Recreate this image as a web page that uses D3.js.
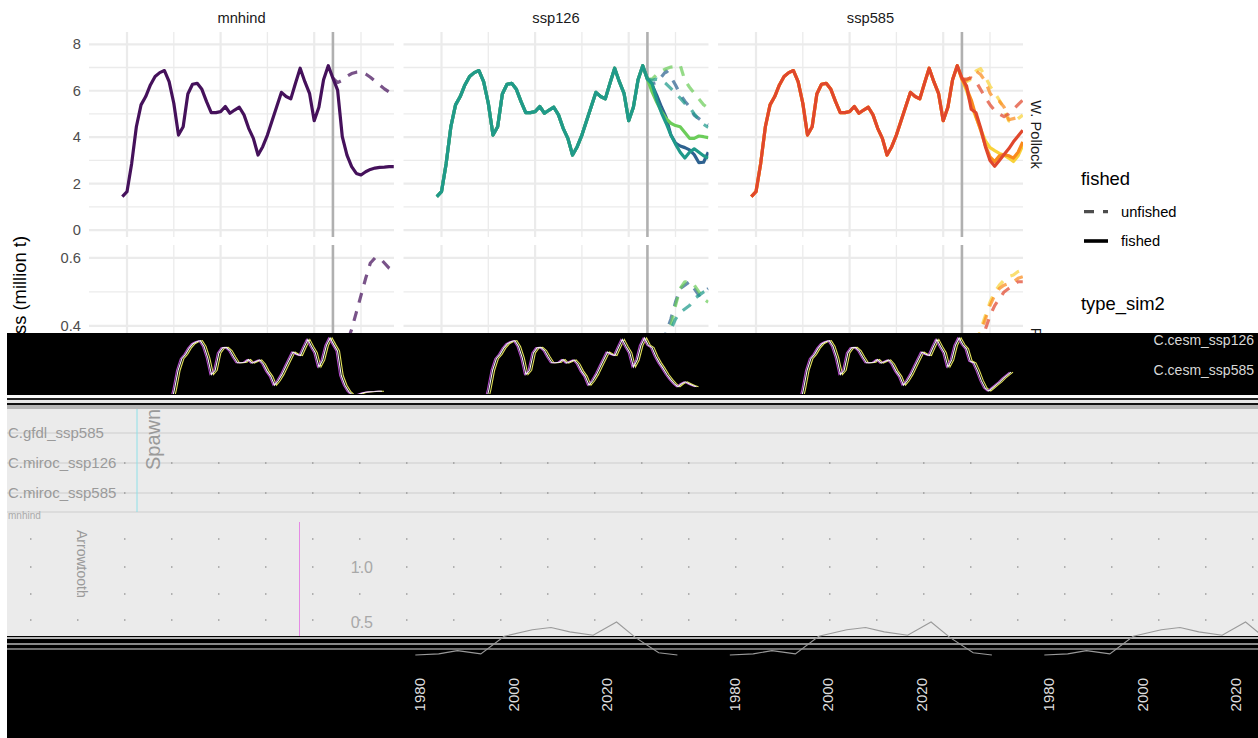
<!doctype html>
<html>
<head>
<meta charset="utf-8">
<script src="https://cdn.jsdelivr.net/npm/d3@7/dist/d3.min.js"></script>
<style>
body { margin: 0; background: #fff; }
text { font-family: "Liberation Sans", Arial, sans-serif; }
</style>
</head>
<body>
<script>
// ---- data ----
var scenarios = ["mnhind", "ssp126", "ssp585"];
var species = ["W. Pollock", "P. cod"];
var hindYears = d3.range(1979, 2024);
var projYears = d3.range(2024, 2038);
var xBreaks = [1980, 2000, 2020];
var xMinor = [1990, 2010, 2030];
var projStart = 2024;
var yTicksPollock = [0, 2, 4, 6, 8];
var yMinorPollock = [1, 3, 5, 7];
var yTicksCod = [0.2, 0.4, 0.6];
var yMinorCod = [0.3, 0.5];

var pollockHind = [1.44, 1.65, 2.87, 4.45, 5.39, 5.75, 6.25, 6.61, 6.78, 6.87,
  6.39, 5.46, 4.09, 4.45, 5.86, 6.28, 6.32, 6.06, 5.53, 5.06,
  5.06, 5.10, 5.32, 5.03, 5.17, 5.29, 4.96, 4.38, 3.95, 3.23,
  3.59, 4.09, 4.71, 5.32, 5.93, 5.75, 5.65, 6.32, 6.97, 6.39,
  5.89, 4.71, 5.29, 6.47, 7.08];

var panelSims = {
  mnhind: ["mnhind"],
  ssp126: ["C.cesm_ssp126", "C.gfdl_ssp126", "C.miroc_ssp126"],
  ssp585: ["C.cesm_ssp585", "C.gfdl_ssp585", "C.miroc_ssp585"]
};
var simColor = {
  "mnhind": "#45115b",
  "C.cesm_ssp126": "#2e6290", "C.gfdl_ssp126": "#6ccd5a", "C.miroc_ssp126": "#1f9a8a",
  "C.cesm_ssp585": "#f8d23a", "C.gfdl_ssp585": "#f98b1d", "C.miroc_ssp585": "#e0472d"
};

var pollockFished = {
  "mnhind":        [6.54, 6.03, 4.02, 3.23, 2.73, 2.44, 2.37, 2.51, 2.61, 2.67, 2.70, 2.71, 2.73, 2.73],
  "C.cesm_ssp126": [6.50, 6.25, 5.80, 5.30, 4.85, 4.10, 3.75, 3.62, 3.55, 3.45, 3.25, 2.90, 2.92, 3.35],
  "C.gfdl_ssp126": [6.50, 5.95, 5.50, 5.10, 4.80, 4.60, 4.50, 4.45, 4.20, 3.95, 3.95, 4.05, 4.02, 3.98],
  "C.miroc_ssp126":[6.50, 6.30, 5.60, 5.05, 4.60, 4.10, 3.70, 3.35, 3.10, 3.35, 3.50, 3.35, 3.20, 3.10],
  "C.cesm_ssp585": [6.50, 6.00, 5.40, 4.85, 4.35, 3.85, 3.55, 3.42, 3.30, 3.23, 3.10, 2.95, 3.20, 3.65],
  "C.gfdl_ssp585": [6.50, 6.10, 5.60, 4.90, 4.30, 3.65, 3.15, 2.95, 3.20, 3.25, 3.20, 3.10, 3.35, 3.80],
  "C.miroc_ssp585":[6.55, 6.20, 5.20, 5.05, 4.40, 3.60, 3.00, 2.75, 3.00, 3.25, 3.50, 3.80, 4.05, 4.30]
};
var pollockUnfished = {
  "mnhind":        [6.54, 6.35, 6.45, 6.62, 6.74, 6.80, 6.82, 6.72, 6.58, 6.42, 6.25, 6.08, 5.95, 5.88],
  "C.cesm_ssp126": [6.50, 6.30, 6.35, 6.60, 6.85, 6.60, 6.25, 5.85, 5.55, 5.30, 4.95, 4.80, 4.65, 4.53],
  "C.gfdl_ssp126": [6.50, 6.50, 6.70, 6.85, 6.95, 7.02, 7.05, 7.10, 6.45, 6.15, 5.90, 5.65, 5.40, 5.25],
  "C.miroc_ssp126":[6.50, 6.45, 6.50, 6.45, 6.30, 6.10, 5.90, 5.68, 5.45, 5.30, 5.00, 4.75, 4.55, 4.42],
  "C.cesm_ssp585": [6.50, 6.40, 6.50, 6.85, 6.95, 6.60, 6.20, 5.90, 5.60, 5.20, 4.70, 4.65, 4.80, 4.95],
  "C.gfdl_ssp585": [6.50, 6.45, 6.60, 6.85, 6.70, 6.40, 5.90, 5.60, 5.55, 5.30, 4.75, 4.80, 4.85, 4.90],
  "C.miroc_ssp585":[6.50, 6.50, 6.55, 6.40, 6.05, 5.70, 5.40, 5.15, 5.00, 4.88, 5.00, 5.20, 5.40, 5.60]
};
var codUnfished = {
  "mnhind":        [0.26, 0.28, 0.31, 0.35, 0.39, 0.44, 0.49, 0.54, 0.585, 0.60, 0.60, 0.585, 0.57, 0.56],
  "C.cesm_ssp126": [0.25, 0.28, 0.31, 0.34, 0.38, 0.42, 0.47, 0.51, 0.52, 0.53, 0.51, 0.49, 0.50, 0.51],
  "C.gfdl_ssp126": [0.25, 0.27, 0.30, 0.33, 0.36, 0.40, 0.46, 0.51, 0.53, 0.53, 0.52, 0.50, 0.48, 0.47],
  "C.miroc_ssp126":[0.25, 0.27, 0.29, 0.32, 0.35, 0.39, 0.42, 0.44, 0.45, 0.46, 0.48, 0.49, 0.50, 0.506],
  "C.cesm_ssp585": [0.25, 0.28, 0.31, 0.35, 0.39, 0.43, 0.47, 0.50, 0.52, 0.535, 0.545, 0.55, 0.56, 0.565],
  "C.gfdl_ssp585": [0.25, 0.27, 0.30, 0.34, 0.38, 0.42, 0.46, 0.49, 0.51, 0.52, 0.525, 0.53, 0.54, 0.545],
  "C.miroc_ssp585":[0.24, 0.26, 0.29, 0.32, 0.36, 0.39, 0.43, 0.46, 0.48, 0.50, 0.51, 0.52, 0.53, 0.53]
};

// faint trace left in the damaged lower part of the picture
var ghostYears = [1979, 1984, 1988, 1993, 1998, 2004, 2008, 2012, 2017, 2022, 2026, 2031, 2035];
var ghostVals  = [0.20, 0.21, 0.24, 0.21, 0.37, 0.43, 0.45, 0.41, 0.38, 0.50, 0.36, 0.22, 0.20];
var ghostLegend = ["C.gfdl_ssp585", "C.miroc_ssp126", "C.miroc_ssp585"];
var ghostLegendRight = ["C.cesm_ssp126", "C.cesm_ssp585"];

// ---- layout ----
var W = 1258, H = 738;
var panelLeft = [89, 403.5, 718], panelW = 305;
var rows = [
  {name: species[0], top: 32, bottom: 237, domain: [-0.30, 8.53], ticks: yTicksPollock, minor: yMinorPollock, fmt: d3.format("d")},
  {name: species[1], top: 245, bottom: 450, domain: [0.0353, 0.638], ticks: yTicksCod, minor: yMinorCod, fmt: d3.format(".1f")}
];
var dash = "10,9";

var svg = d3.select("body").append("svg").attr("width", W).attr("height", H);
var defs = svg.append("defs");

function xScale(i) {
  return d3.scaleLinear().domain([1971.88, 2037.05]).range([panelLeft[i], panelLeft[i] + panelW]);
}

rows.forEach(function(row, r) {
  var y = d3.scaleLinear().domain(row.domain).range([row.bottom, row.top]);

  // y tick labels (left column only)
  svg.append("g").selectAll("text").data(row.ticks).join("text")
    .attr("x", 81).attr("y", d => y(d)).attr("dy", "0.35em")
    .attr("text-anchor", "end").attr("font-size", 14.7).attr("fill", "#4d4d4d")
    .text(row.fmt);

  scenarios.forEach(function(sc, i) {
    var x = xScale(i);
    var id = "clip" + r + i;
    defs.append("clipPath").attr("id", id).append("rect")
      .attr("x", panelLeft[i]).attr("y", row.top).attr("width", panelW).attr("height", row.bottom - row.top);
    var g = svg.append("g");
    var grid = g.append("g").attr("stroke", "#ebebeb").attr("fill", "none");
    grid.selectAll(".ymin").data(row.minor).join("line")
      .attr("x1", panelLeft[i]).attr("x2", panelLeft[i] + panelW)
      .attr("y1", d => y(d)).attr("y2", d => y(d)).attr("stroke-width", 1.3);
    grid.selectAll(".ymaj").data(row.ticks.filter(t => y(t) >= row.top && y(t) <= row.bottom)).join("line")
      .attr("x1", panelLeft[i]).attr("x2", panelLeft[i] + panelW)
      .attr("y1", d => y(d)).attr("y2", d => y(d)).attr("stroke-width", 2.2);
    grid.selectAll(".xmin").data(xMinor).join("line")
      .attr("x1", d => x(d)).attr("x2", d => x(d))
      .attr("y1", row.top).attr("y2", row.bottom).attr("stroke-width", 1.3);
    grid.selectAll(".xmaj").data(xBreaks).join("line")
      .attr("x1", d => x(d)).attr("x2", d => x(d))
      .attr("y1", row.top).attr("y2", row.bottom).attr("stroke-width", 2.2);

    g.append("line").attr("x1", x(projStart)).attr("x2", x(projStart))
      .attr("y1", row.top).attr("y2", row.bottom)
      .attr("stroke", "#b0b0b0").attr("stroke-width", 2.6);

    var line = d3.line().x(d => x(d[0])).y(d => y(d[1]));
    var lg = g.append("g").attr("clip-path", "url(#" + id + ")").attr("fill", "none")
      .attr("stroke-width", 3.2).attr("stroke-linejoin", "round");
    var sims = panelSims[sc];
    var unf = r === 0 ? pollockUnfished : codUnfished;
    sims.forEach(function(s) {
      lg.append("path").attr("d", line(d3.zip(projYears, unf[s])))
        .attr("stroke", simColor[s]).attr("stroke-opacity", 0.72).attr("stroke-dasharray", dash);
    });
    if (r === 0) {
      sims.forEach(function(s) {
        var pts = d3.zip(hindYears, pollockHind).concat(d3.zip(projYears, pollockFished[s]));
        lg.append("path").attr("d", line(pts)).attr("stroke", simColor[s]);
      });
    }

    if (r === 0) {
      svg.append("text").attr("x", panelLeft[i] + panelW / 2).attr("y", 18).attr("dy", "0.35em")
        .attr("text-anchor", "middle").attr("font-size", 14.7).attr("fill", "#1a1a1a").text(sc);
    }
  });

  var cy = (row.top + row.bottom) / 2;
  svg.append("text").attr("transform", "translate(1031," + cy + ") rotate(90)")
    .attr("text-anchor", "middle").attr("font-size", 14.7).attr("fill", "#1a1a1a").text(row.name);
});

// y-axis title
svg.append("text").attr("transform", "translate(26,353) rotate(-90)")
  .attr("text-anchor", "middle").attr("font-size", 18.4).attr("fill", "#000")
  .text("Spawning biomass (million t)");

// legends
var leg = svg.append("g");
leg.append("text").attr("x", 1081).attr("y", 184.5).attr("font-size", 18.4).text("fished");
var fishedKeys = [{label: "unfished", dash: dash, color: "#4d4d4d", w: 3.2}, {label: "fished", dash: null, color: "#000", w: 3.6}];
fishedKeys.forEach(function(k, j) {
  var ky = 211.7 + j * 29.3;
  leg.append("line").attr("x1", 1084).attr("x2", 1108).attr("y1", ky).attr("y2", ky)
    .attr("stroke", k.color).attr("stroke-width", k.w).attr("stroke-dasharray", k.dash);
  leg.append("text").attr("x", 1121).attr("y", ky).attr("dy", "0.35em").attr("font-size", 14.7).text(k.label);
});
leg.append("text").attr("x", 1081).attr("y", 310).attr("font-size", 18.4).text("type_sim2");

// ---- the damaged lower half of the reference ----
var gl = svg.append("g");
gl.append("rect").attr("x", 0).attr("y", 333).attr("width", W).attr("height", H - 333).attr("fill", "#fff");
var bands = [
  {y: 333, h: 62, c: "#000"}, {y: 395, h: 3, c: "#fafafa"}, {y: 398, h: 2, c: "#222"},
  {y: 400, h: 3, c: "#e6e6e6"}, {y: 403, h: 2, c: "#111"}, {y: 405, h: 4, c: "#b5b5b5"},
  {y: 409, h: 227, c: "#ebebeb"}, {y: 636, h: 102, c: "#000"}
];
gl.selectAll(".band").data(bands).join("rect")
  .attr("x", 7).attr("y", d => d.y).attr("width", W - 7).attr("height", d => d.h).attr("fill", d => d.c);
[{y: 638, c: "#f0f0f0", w: 1.5}, {y: 644, c: "#8a8a8a", w: 2}, {y: 649, c: "#dcdcdc", w: 1}].forEach(function(s) {
  gl.append("line").attr("x1", 7).attr("x2", W).attr("y1", s.y).attr("y2", s.y)
    .attr("stroke", s.c).attr("stroke-width", s.w);
});
[433, 463, 493, 512].forEach(function(yy) {
  gl.append("line").attr("x1", 7).attr("x2", W).attr("y1", yy).attr("y2", yy).attr("stroke", "#cdcdcd");
});
[463, 493, 539, 567, 594, 620].forEach(function(yy) {
  gl.append("line").attr("x1", 30).attr("x2", W).attr("y1", yy).attr("y2", yy)
    .attr("stroke", "#777").attr("stroke-width", 1.2).attr("stroke-dasharray", "1.5,45.5");
});
gl.append("line").attr("x1", 137).attr("x2", 137).attr("y1", 409).attr("y2", 512).attr("stroke", "#8fe0e8");
gl.append("line").attr("x1", 299.5).attr("x2", 299.5).attr("y1", 522).attr("y2", 636).attr("stroke", "#e58ae5");

// ghost of the biomass curves inside the black band
var gx = d3.scaleLinear().domain([1979, 2037]).range([167, 382]);
var gy = d3.scaleLinear().domain([3, 7]).range([388, 339]);
var gclip = defs.append("clipPath").attr("id", "gband");
gclip.append("rect").attr("x", 7).attr("y", 334).attr("width", W).attr("height", 60);
var gband = gl.append("g").attr("clip-path", "url(#gband)").attr("fill", "none");
scenarios.forEach(function(sc, i) {
  var s = panelSims[sc][panelSims[sc].length - 1];
  var pts = d3.zip(hindYears, pollockHind).concat(d3.zip(projYears, pollockFished[s]));
  [{dx: 2, c: "#e3e35a"}, {dx: -1.5, c: "#b048c8"}, {dx: 0, c: "#f2f2f2"}].forEach(function(o) {
    gband.append("path")
      .attr("d", d3.line().x(d => gx(d[0]) + i * 314.5 + o.dx).y(d => gy(d[1]))(pts))
      .attr("stroke", o.c).attr("stroke-width", 1.1);
  });
});

// ghost of the lower row trace
var gy2 = d3.scaleLinear().domain([0.5, 1.0]).range([622, 567]);
scenarios.forEach(function(sc, i) {
  var x = xScale(i);
  gl.append("path")
    .attr("d", d3.line().x(d => x(d[0]) + 293).y(d => gy2(d[1]))(d3.zip(ghostYears, ghostVals)))
    .attr("fill", "none").attr("stroke", "#9a9a9a").attr("stroke-width", 1.1);
});

// texts still readable in the damaged area
gl.selectAll(".gleg").data(ghostLegend).join("text")
  .attr("x", 8).attr("y", (d, j) => 433 + j * 29.7).attr("dy", "0.35em")
  .attr("font-size", 15).attr("fill", "#9a9a9a").text(d => d);
gl.selectAll(".gleg2").data(ghostLegendRight).join("text")
  .attr("x", 1254).attr("y", (d, j) => 340 + j * 29.7).attr("dy", "0.35em").attr("text-anchor", "end")
  .attr("font-size", 14).attr("fill", "#d8d8d8").text(d => d);
gl.append("text").attr("x", 8).attr("y", 519).attr("font-size", 10).attr("fill", "#aaa").text("mnhind");
gl.append("text").attr("transform", "translate(160,470) rotate(-90)")
  .attr("font-size", 20).attr("fill", "#9a9a9a").text("Spawn");
gl.append("text").attr("transform", "translate(77,530) rotate(90)")
  .attr("font-size", 14).attr("fill", "#9a9a9a").text("Arrowtooth");
gl.selectAll(".gyt").data([1.0, 0.5]).join("text")
  .attr("x", 373).attr("y", d => gy2(d)).attr("dy", "0.35em").attr("text-anchor", "end")
  .attr("font-size", 16).attr("fill", "#a8a8a8").text(d3.format(".1f"));
scenarios.forEach(function(sc, i) {
  var x = xScale(i);
  gl.selectAll(".gxt" + i).data(xBreaks).join("text")
    .attr("transform", d => "translate(" + (x(d) + 293) + ",678) rotate(-90)")
    .attr("text-anchor", "end").attr("dy", "0.35em")
    .attr("font-size", 15).attr("fill", "#dedede").text(d => d);
});
</script>
</body>
</html>
